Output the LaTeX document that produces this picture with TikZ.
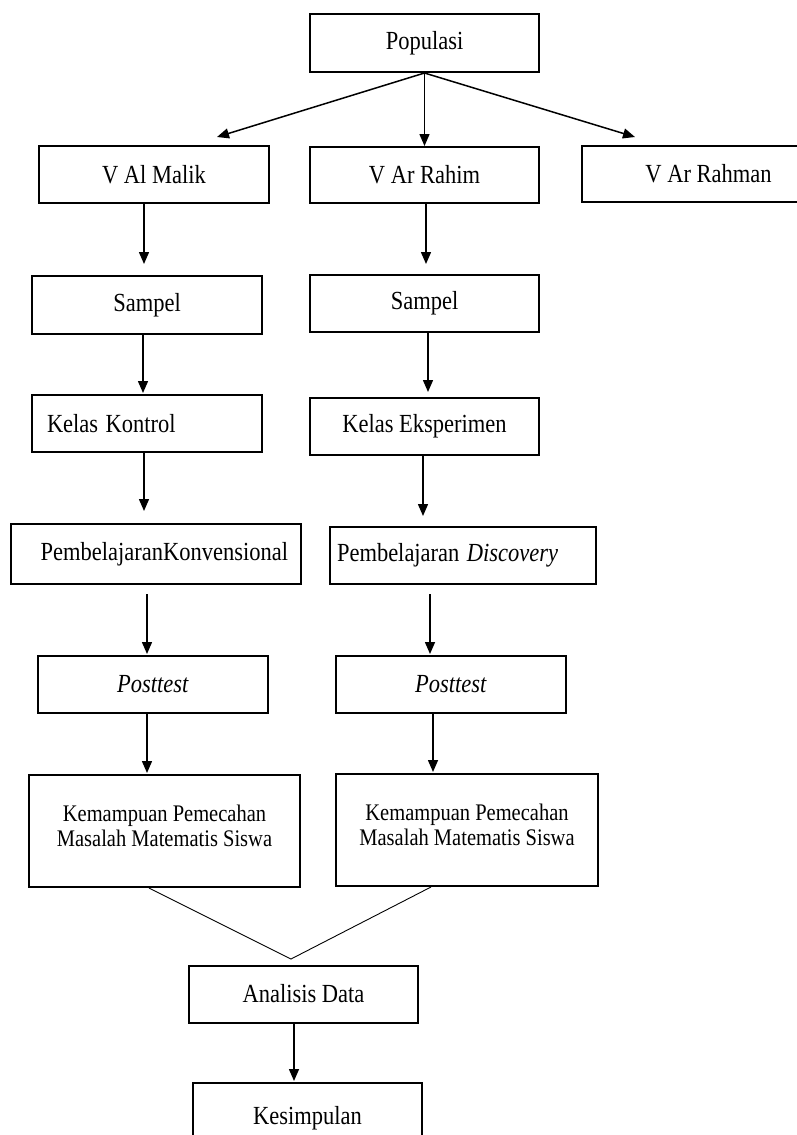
\documentclass[tikz,border=0pt]{standalone}
\usepackage{fontspec}
\usepackage{graphicx}
\setmainfont{Liberation Serif}
\usetikzlibrary{arrows.meta,calc}
\newcommand{\tx}[1]{\scalebox{1}[1.16]{#1}}
\begin{document}
\begin{tikzpicture}[x=1pt,y=-1pt,
  box/.style={draw, line width=2pt, inner sep=0pt, font=\fontsize{22.5}{27}\selectfont},
  bigbox/.style={box, align=center, font=\fontsize{20.5}{21.5}\selectfont},
  arr/.style={line width=1.5pt, -{Triangle[length=12pt,width=10pt]}},
  joinline/.style={line width=0.9pt}]
\useasboundingbox (0,0) rectangle (797,1135);
\clip (0,0) rectangle (797,1135);
% boxes
\node[box, minimum width=229pt, minimum height=58pt] (pop) at (424.5,43) {\tx{Populasi}};
\node[box, minimum width=230pt, minimum height=57pt] (malik) at (154,174.5) {\tx{V Al Malik}};
\node[box, minimum width=229pt, minimum height=56pt] (rahim) at (424.5,175) {\tx{V Ar Rahim}};
\node[box, minimum width=253pt, minimum height=56pt] (rahman) at (708.5,174) {\tx{V Ar Rahman}};
\node[box, minimum width=230pt, minimum height=58pt] (sampelL) at (147,305) {\tx{Sampel}};
\node[box, minimum width=229pt, minimum height=57pt] (sampelR) at (424.5,303.5) {\tx{Sampel}};
\node[box, minimum width=230pt, minimum height=57pt, text width=200pt, inner xsep=15pt, align=left] (kontrol) at (147,423.5) {\tx{Kelas Kontrol}};
\node[box, minimum width=229pt, minimum height=57pt] (eksp) at (424.5,426.5) {\tx{Kelas Eksperimen}};
\node[box, minimum width=290pt, minimum height=60pt, text width=264pt, inner xsep=13pt, align=right] (pk) at (156,554) {\tx{PembelajaranKonvensional}};
\node[box, minimum width=266pt, minimum height=57pt, text width=252pt, inner xsep=7pt, align=left] (pd) at (463,555.5) {\tx{Pembelajaran \textit{Discovery}}};
\node[box, minimum width=230pt, minimum height=57pt] (postL) at (153,684.5) {\tx{\textit{Posttest}}};
\node[box, minimum width=230pt, minimum height=57pt] (postR) at (451,684.5) {\tx{\textit{Posttest}}};
\node[bigbox, minimum width=271pt, minimum height=112pt] (kpmL) at (164.5,831) {\tx{\begin{tabular}{@{}c@{}}Kemampuan Pemecahan\\Masalah Matematis Siswa\\[4pt]\end{tabular}}};
\node[bigbox, minimum width=262pt, minimum height=112pt] (kpmR) at (467,830) {\tx{\begin{tabular}{@{}c@{}}Kemampuan Pemecahan\\Masalah Matematis Siswa\\[4pt]\end{tabular}}};
\node[box, minimum width=229pt, minimum height=57pt] (analisis) at (303.5,994) {\tx{Analisis Data}};
\node[box, minimum width=229pt, minimum height=70pt] (kesimpulan) at (307.5,1118) {\tx{Kesimpulan}};
% connector ends
\coordinate (tipL) at (217,137);
\coordinate (tipR) at (635,137);
\coordinate (apex) at (291,959);
% arrows
\draw[arr] (pop.south) -- (tipL);
\draw[arr] (pop.south) -- (rahim.north);
\draw[arr] (pop.south) -- (tipR);
\draw[arr, shorten >=11pt] ([xshift=-10pt]malik.south) -- ([xshift=-3pt]sampelL.north);
\draw[arr, shorten >=10pt] ([xshift=1.5pt]rahim.south) -- ([xshift=1.5pt]sampelR.north);
\draw[arr, shorten >=1pt] ([xshift=-4pt]sampelL.south) -- ([xshift=-4pt]kontrol.north);
\draw[arr, shorten >=5pt] ([xshift=3.5pt]sampelR.south) -- ([xshift=3.5pt]eksp.north);
\draw[arr, shorten >=12pt] ([xshift=-3pt]kontrol.south) -- ([xshift=-12pt]pk.north);
\draw[arr, shorten >=10pt] ([xshift=-1.5pt]eksp.south) -- ([xshift=-40pt]pd.north);
\draw[arr, shorten <=9pt, shorten >=1pt] ([xshift=-9pt]pk.south) -- ([xshift=-6pt]postL.north);
\draw[arr, shorten <=9pt, shorten >=1pt] ([xshift=-33pt]pd.south) -- ([xshift=-21pt]postR.north);
\draw[arr, shorten >=1pt] ([xshift=-6pt]postL.south) -- ([xshift=-17.5pt]kpmL.north);
\draw[arr, shorten >=1pt] ([xshift=-18pt]postR.south) -- ([xshift=-34pt]kpmR.north);
\draw[joinline] ([xshift=-15.5pt]kpmL.south) -- (apex) -- ([xshift=-36pt]kpmR.south);
\draw[arr, shorten >=1pt] ([xshift=-9.5pt]analisis.south) -- ([xshift=-13.5pt]kesimpulan.north);
\end{tikzpicture}
\end{document}
